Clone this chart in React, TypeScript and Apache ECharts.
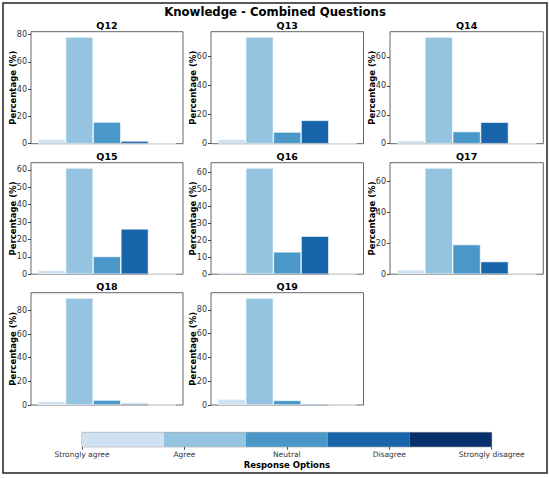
import React, { useEffect, useRef } from "react";
import * as echarts from "echarts";

const categories = ["Strongly agree", "Agree", "Neutral", "Disagree", "Strongly disagree"];
const colors = ["#d0e1f2", "#94c4df", "#4a98c9", "#1764ab", "#08306b"];
const questions = ["Q12", "Q13", "Q14", "Q15", "Q16", "Q17", "Q18", "Q19"];
const Q12 = [3.2, 78.3, 15.9, 2.0, 0];
const Q13 = [3.1, 73.0, 8.0, 16.0, 0];
const Q14 = [2.3, 73.8, 8.4, 14.9, 0];
const Q15 = [2.3, 61.1, 10.2, 26.1, 0];
const Q16 = [1.2, 62.7, 13.2, 22.5, 0];
const Q17 = [2.9, 68.8, 19.2, 8.2, 0];
const Q18 = [3.2, 90.4, 4.2, 1.4, 0];
const Q19 = [5.0, 89.9, 3.9, 1.1, 0];
const tickSteps = [20, 20, 20, 10, 10, 20, 20, 20];
const seriesValues = [Q12, Q13, Q14, Q15, Q16, Q17, Q18, Q19];

const FONT = "DejaVu Sans";
const cols = [
  [31, 183],
  [211, 363.5],
  [390, 543.3],
];
const rows = [
  [31.7, 143.7],
  [162.7, 274.2],
  [292.7, 405],
];

export default function App() {
  const ref = useRef<HTMLDivElement>(null);
  useEffect(() => {
    if (!ref.current) return;
    const chart = echarts.init(ref.current, undefined, { renderer: "svg" });
    const grids: any[] = [];
    const xAxes: any[] = [];
    const yAxes: any[] = [];
    const series: any[] = [];
    const titles: any[] = [
      {
        text: "Knowledge - Combined Questions",
        left: 275,
        textAlign: "center",
        top: 5.5,
        padding: 0,
        textStyle: { fontFamily: FONT, fontSize: 11.7, fontWeight: "bold", color: "#000" },
      },
    ];
    questions.forEach((q, i) => {
      const c = cols[i % 3];
      const r = rows[Math.floor(i / 3)];
      const w = c[1] - c[0];
      const h = r[1] - r[0];
      const vals = seriesValues[i];
      const maxV = Math.max(...vals) * 1.05;
      const step = tickSteps[i];
      grids.push({
        left: c[0],
        top: r[0],
        width: w,
        height: h,
        show: true,
        borderColor: "#666",
        borderWidth: 1,
        backgroundColor: "transparent",
      });
      xAxes.push({
        gridIndex: i,
        type: "value",
        min: -0.75,
        max: 4.75,
        axisLine: { show: false, onZero: false },
        axisTick: { show: false },
        axisLabel: { show: false },
        splitLine: { show: false },
      });
      yAxes.push({
        gridIndex: i,
        type: "value",
        position: "left",
        min: 0,
        max: maxV,
        interval: step,
        name: "Percentage (%)",
        nameLocation: "middle",
        nameGap: 14,
        nameMoveOverlap: false,
        nameTextStyle: { fontFamily: FONT, fontSize: 8.5, fontWeight: "bold", color: "#000" },
        axisLine: { show: false, onZero: false },
        axisTick: { show: true, length: 3, lineStyle: { color: "#444" } },
        axisLabel: {
          fontFamily: FONT,
          fontSize: 8,
          color: "#333",
          margin: 4,
          showMaxLabel: false,
          formatter: (v: number) => (Math.abs(v / step - Math.round(v / step)) < 1e-6 ? String(v) : ""),
        },
        splitLine: { show: false },
      });
      series.push({
        type: "bar",
        xAxisIndex: i,
        yAxisIndex: i,
        barWidth: w / 5.5,
        data: vals.map((v, k) => ({
          value: [k, v],
          itemStyle: { color: colors[k], borderColor: "#fff", borderWidth: 0.6 },
        })),
      });
      titles.push({
        text: q,
        left: (c[0] + c[1]) / 2,
        textAlign: "center",
        top: r[0] - 11.5,
        padding: 0,
        textStyle: { fontFamily: FONT, fontSize: 9.5, fontWeight: "bold", color: "#000" },
      });
    });

    // colorbar legend
    const cbLeft = 82;
    const cbWidth = 409.7;
    const gi = grids.length;
    const nSeg = categories.length;
    const span = nSeg - 1;
    grids.push({
      left: cbLeft,
      top: 432.4,
      width: cbWidth,
      height: 14.4,
      show: true,
      borderColor: "#888",
      borderWidth: 0.8,
    });
    xAxes.push({
      gridIndex: gi,
      type: "value",
      min: 0,
      max: span,
      interval: 1,
      axisLine: { show: false, onZero: false },
      axisTick: { show: true, length: 3, lineStyle: { color: "#555" } },
      axisLabel: {
        fontFamily: FONT,
        fontSize: 7.5,
        color: "#333",
        margin: 4,
        formatter: (v: number) => categories[Math.round(v)] ?? "",
        showMinLabel: true,
        showMaxLabel: true,
      },
      splitLine: { show: false },
      name: "Response Options",
      nameLocation: "middle",
      nameGap: 14,
      nameMoveOverlap: false,
      nameTextStyle: { fontFamily: FONT, fontSize: 8.5, fontWeight: "bold", color: "#000" },
    });
    yAxes.push({
      gridIndex: gi,
      type: "value",
      min: 0,
      max: 1,
      show: false,
    });
    series.push({
      type: "bar",
      xAxisIndex: gi,
      yAxisIndex: gi,
      barWidth: cbWidth / nSeg,
      data: colors.map((col, k) => ({
        value: [((k + 0.5) * span) / nSeg, 1],
        itemStyle: { color: col },
      })),
    });

    chart.setOption({
      animation: false,
      backgroundColor: "#fff",
      title: titles,
      grid: grids,
      xAxis: xAxes,
      yAxis: yAxes,
      series,
      graphic: [
        {
          type: "rect",
          shape: { x: 3, y: 3, width: 544, height: 470 },
          style: { fill: "none", stroke: "#222", lineWidth: 1.5 },
          z: 100,
        },
      ],
    });
    return () => chart.dispose();
  }, []);
  return (
    <div
      ref={ref}
      style={{ position: "fixed", left: 0, top: 0, width: 550, height: 478, background: "#fff" }}
    />
  );
}
